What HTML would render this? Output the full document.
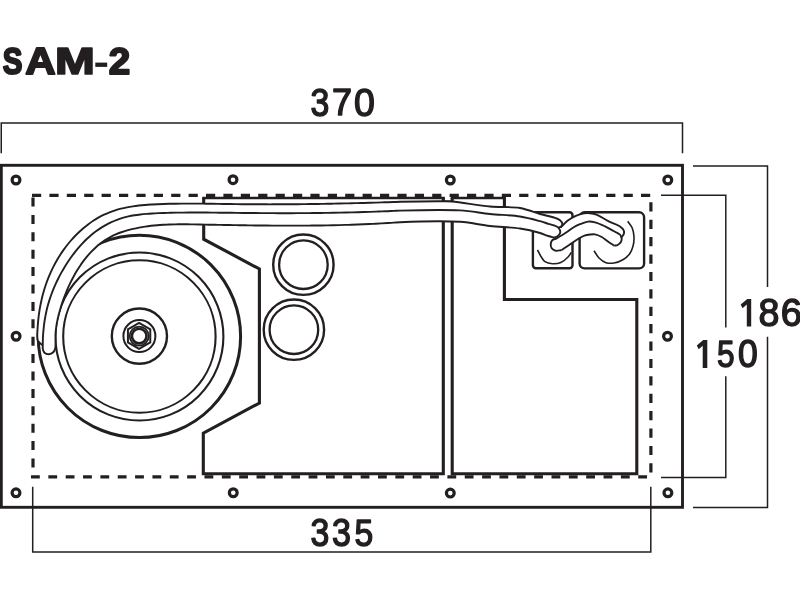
<!DOCTYPE html>
<html><head><meta charset="utf-8"><style>
html,body{margin:0;padding:0;background:#fff;width:800px;height:600px;overflow:hidden}
svg{display:block;will-change:transform}
</style></head><body>
<svg width="800" height="600" viewBox="0 0 800 600"><g fill="none" stroke="#231f20"><path d="M1.25,153.2 V122.9 H682.5 V153.2" stroke-width="1.5"/><path d="M693,166.1 H767.5 V287 M767.5,336.7 V507.5 H693" stroke-width="1.5"/><path d="M661,195.2 H725.8 V327.5 M725.8,376.3 V477.4 H661" stroke-width="1.5"/><path d="M32.7,486.7 V551.9 H650.8 V486.7" stroke-width="1.5"/><rect x="1.3" y="165.3" width="681.2" height="342" stroke-width="2.9"/><path d="M32,195.4 H651" stroke-width="3.2" stroke-dasharray="9.2 8.2"/><path d="M33,197.5 V477" stroke-width="3.2" stroke-dasharray="9 8.4"/><path d="M31,476.9 H651" stroke-width="3.2" stroke-dasharray="8.8 8.55"/><path d="M650.9,202.3 V476" stroke-width="3.2" stroke-dasharray="9.2 8.2"/><circle cx="16" cy="180" r="3.9" stroke-width="3.2"/><circle cx="233" cy="179.7" r="3.9" stroke-width="3.2"/><circle cx="450.3" cy="180" r="3.9" stroke-width="3.2"/><circle cx="667.8" cy="180" r="3.9" stroke-width="3.2"/><circle cx="16.1" cy="336.25" r="3.9" stroke-width="3.2"/><circle cx="667.5" cy="336.25" r="3.9" stroke-width="3.2"/><circle cx="16" cy="492.8" r="3.9" stroke-width="3.2"/><circle cx="233.25" cy="492.75" r="3.9" stroke-width="3.2"/><circle cx="450.3" cy="493.1" r="3.9" stroke-width="3.2"/><circle cx="667.9" cy="492.8" r="3.9" stroke-width="3.2"/><path d="M443.3,198 V473.8 H203.3 V433.2 L259.4,403 V269 L203.7,239.2 V198" stroke-width="3.1"/><path d="M202.2,198 H444.8 M450.7,198 H505.9" stroke-width="2.5"/><path d="M443.3,197 V201.4 H452.2 V197" stroke-width="1.6"/><path d="M504.4,198 V299.5 H636.8 V473.8 H452.2 V198" stroke-width="3.1"/><circle cx="303.4" cy="264.7" r="30.2" stroke-width="2.4"/><circle cx="303.4" cy="264.7" r="24.3" stroke-width="2.3"/><circle cx="293.9" cy="329.7" r="30.2" stroke-width="2.4"/><circle cx="293.9" cy="329.7" r="24.3" stroke-width="2.3"/><circle cx="139.4" cy="336.4" r="101.2" stroke-width="3"/><circle cx="139.4" cy="336.5" r="84" stroke-width="2.1"/><circle cx="139.4" cy="336.5" r="76.2" stroke-width="2.1"/><circle cx="139.4" cy="336.1" r="27.6" stroke-width="2.4"/><circle cx="139.4" cy="336.1" r="16" stroke-width="2"/><polygon points="139.10,348.80 127.93,342.35 127.93,329.45 139.10,323.00 150.27,329.45 150.27,342.35" stroke-width="2"/><circle cx="139.2" cy="336.1" r="9.5" stroke-width="1.8"/><circle cx="139.2" cy="336.1" r="7.3" stroke-width="2.6"/><rect x="532.9" y="212.3" width="39.6" height="55.9" rx="3" stroke-width="2.4"/><rect x="579.6" y="212.3" width="64.5" height="56.1" rx="5" stroke-width="2.4"/><path d="M627.70,221.30 C629.23,223.63 631.25,225.73 632.30,228.30 C633.38,230.95 633.87,234.04 634.00,237.00 C634.13,240.04 633.77,243.43 633.00,246.30 C632.28,248.97 631.28,251.53 629.70,253.70 C628.07,255.94 625.80,257.97 623.30,259.50 C620.62,261.14 617.03,262.51 614.00,263.00 C611.28,263.44 608.47,263.50 606.00,262.70 C603.46,261.87 600.98,259.97 599.00,258.00 C596.97,255.99 595.67,253.13 594.00,250.70" stroke-width="1.6"/><path d="M537.50,250.00 C538.67,252.17 539.71,254.50 541.00,256.50 C542.22,258.38 543.21,260.50 545.00,261.70 C546.95,263.01 549.92,263.60 552.50,263.75 C555.18,263.91 558.23,263.60 560.80,262.50 C563.53,261.33 566.47,258.62 568.30,256.70 C569.65,255.29 570.27,253.90 571.25,252.50" stroke-width="1.6"/><path d="M560.80,227.50 C563.03,225.27 565.02,222.74 567.50,220.80 C570.01,218.84 572.96,217.05 575.80,215.80 C578.47,214.63 581.46,213.81 584.00,213.40 C586.13,213.06 587.94,213.00 590.00,213.20 C592.26,213.42 594.47,213.82 597.00,214.80 C600.41,216.12 604.48,219.27 608.30,221.20 C612.05,223.09 616.99,224.43 619.70,226.30 C621.53,227.56 623.06,228.95 623.70,230.30 C624.17,231.29 624.20,232.33 624.00,233.30 C623.78,234.34 622.97,235.58 622.30,236.30 C621.77,236.87 621.10,237.10 620.50,237.50 L615.00,231.70 C616.77,232.80 619.19,233.70 620.30,235.00 C621.14,235.99 621.59,237.17 621.70,238.30 C621.81,239.41 621.56,240.65 621.00,241.70 C620.35,242.91 618.91,244.35 617.70,245.00 C616.65,245.56 615.43,245.47 614.30,245.70 L614.30,245.70 C612.30,244.37 610.34,243.10 608.30,241.70 C606.14,240.21 603.99,238.23 601.70,237.00 C599.54,235.84 597.11,234.77 595.00,234.40 C593.24,234.09 591.71,234.32 590.00,234.50 C588.18,234.70 586.28,234.93 584.40,235.60 C582.28,236.35 580.26,237.63 578.00,239.00 C575.26,240.66 572.02,243.10 569.20,245.00 C566.60,246.75 564.20,248.33 561.70,250.00 L561.70,250.00 C559.73,250.27 557.53,251.16 555.80,250.80 C554.24,250.47 552.54,249.52 551.70,248.30 C550.84,247.04 550.58,244.76 550.80,243.30 C550.99,242.05 551.60,240.82 552.50,240.00 C553.49,239.09 555.30,238.87 556.70,238.30Z" fill="#fff" stroke="none"/><path d="M560.80,227.50 C563.03,225.27 565.02,222.74 567.50,220.80 C570.01,218.84 572.96,217.05 575.80,215.80 C578.47,214.63 581.46,213.81 584.00,213.40 C586.13,213.06 587.94,213.00 590.00,213.20 C592.26,213.42 594.47,213.82 597.00,214.80 C600.41,216.12 604.48,219.27 608.30,221.20 C612.05,223.09 616.99,224.43 619.70,226.30 C621.53,227.56 623.06,228.95 623.70,230.30 C624.17,231.29 624.20,232.33 624.00,233.30 C623.78,234.34 622.97,235.58 622.30,236.30 C621.77,236.87 621.10,237.10 620.50,237.50" stroke-width="1.9" stroke-linejoin="round"/><path d="M561.70,250.00 C559.73,250.27 557.53,251.16 555.80,250.80 C554.24,250.47 552.54,249.52 551.70,248.30 C550.84,247.04 550.58,244.76 550.80,243.30 C550.99,242.05 551.60,240.82 552.50,240.00 C553.49,239.09 555.10,239.10 556.70,238.30 C559.04,237.13 562.26,235.08 565.00,233.30 C567.80,231.48 570.62,229.08 573.30,227.50 C575.60,226.14 577.63,225.16 580.00,224.20 C582.51,223.18 585.39,221.88 588.00,221.60 C590.38,221.34 592.51,221.69 595.00,222.30 C598.09,223.06 601.71,224.76 605.00,226.30 C608.38,227.88 612.21,230.08 615.00,231.70 C617.07,232.90 619.19,233.70 620.30,235.00 C621.14,235.99 621.59,237.17 621.70,238.30 C621.81,239.41 621.56,240.65 621.00,241.70 C620.35,242.91 618.91,244.35 617.70,245.00 C616.65,245.56 615.43,245.47 614.30,245.70" stroke-width="1.9" stroke-linejoin="round"/><path d="M561.70,250.00 C564.20,248.33 566.60,246.75 569.20,245.00 C572.02,243.10 575.26,240.66 578.00,239.00 C580.26,237.63 582.28,236.35 584.40,235.60 C586.28,234.93 588.18,234.70 590.00,234.50 C591.71,234.32 593.24,234.09 595.00,234.40 C597.11,234.77 599.54,235.84 601.70,237.00 C603.99,238.23 606.14,240.21 608.30,241.70 C610.34,243.10 612.30,244.37 614.30,245.70" stroke-width="1.9" stroke-linejoin="round"/><path d="M42.70,345.30 C41.13,343.87 38.88,342.67 38.00,341.00 C37.22,339.52 37.39,337.75 37.30,336.00 C37.20,334.08 37.41,331.94 37.51,329.92 C37.61,327.89 37.73,325.87 37.89,323.86 C38.05,321.84 38.25,319.82 38.48,317.82 C38.71,315.81 38.97,313.80 39.28,311.81 C39.58,309.81 39.91,307.82 40.29,305.84 C40.66,303.86 41.07,301.88 41.52,299.92 C41.97,297.95 42.45,295.99 42.98,294.05 C43.50,292.10 44.06,290.17 44.67,288.25 C45.27,286.32 45.91,284.41 46.59,282.51 C47.28,280.62 48.00,278.73 48.76,276.86 C49.53,274.99 50.33,273.14 51.18,271.30 C52.03,269.46 52.92,267.63 53.85,265.83 C54.79,264.02 55.76,262.23 56.78,260.47 C57.80,258.70 58.86,256.95 59.96,255.23 C61.06,253.51 62.21,251.81 63.39,250.14 C64.57,248.48 65.80,246.83 67.06,245.22 C68.32,243.62 69.62,242.04 70.95,240.50 C72.29,238.96 73.66,237.45 75.07,235.98 C76.48,234.52 77.93,233.09 79.41,231.71 C80.89,230.33 82.41,228.99 83.96,227.69 C85.50,226.40 87.09,225.16 88.70,223.96 C90.32,222.77 91.96,221.62 93.64,220.53 C95.32,219.45 97.03,218.41 98.77,217.44 C100.51,216.46 102.28,215.54 104.07,214.69 C105.87,213.83 107.70,213.04 109.55,212.31 C111.40,211.58 113.28,210.92 115.18,210.32 C117.09,209.72 119.02,209.18 120.96,208.69 C122.91,208.20 124.88,207.77 126.86,207.38 C128.84,206.99 130.85,206.65 132.85,206.35 C134.87,206.04 136.89,205.79 138.92,205.56 C140.96,205.33 143.00,205.14 145.04,204.96 C147.09,204.79 149.14,204.66 151.20,204.53 C153.25,204.41 155.30,204.31 157.36,204.22 C159.41,204.13 161.46,204.05 163.50,203.99 C165.55,203.92 167.59,203.86 169.63,203.81 C171.66,203.76 173.70,203.72 175.73,203.69 C177.76,203.66 179.79,203.64 181.82,203.62 C183.84,203.60 185.86,203.59 187.89,203.59 C189.91,203.58 191.93,203.58 193.94,203.59 C195.96,203.59 197.98,203.61 199.99,203.62 C202.00,203.64 204.02,203.66 206.03,203.68 C208.04,203.70 210.05,203.72 212.06,203.75 C214.07,203.78 216.08,203.81 218.09,203.84 C220.10,203.87 222.11,203.90 224.12,203.93 C226.13,203.96 228.14,203.99 230.15,204.02 C232.16,204.05 234.17,204.08 236.18,204.10 C238.19,204.13 240.20,204.16 242.22,204.18 C244.23,204.20 246.25,204.22 248.26,204.24 C250.28,204.25 252.30,204.27 254.31,204.28 C256.33,204.29 258.35,204.30 260.37,204.31 C262.39,204.32 264.41,204.32 266.44,204.32 C268.46,204.33 270.48,204.33 272.50,204.32 C274.53,204.32 276.55,204.32 278.58,204.31 C280.60,204.31 282.63,204.30 284.65,204.29 C286.68,204.28 288.71,204.26 290.73,204.25 C292.76,204.23 294.79,204.22 296.82,204.20 C298.84,204.18 300.87,204.16 302.90,204.14 C304.93,204.11 306.96,204.09 308.99,204.06 C311.01,204.03 313.04,204.01 315.07,203.98 C317.10,203.95 319.13,203.91 321.16,203.88 C323.19,203.85 325.21,203.81 327.24,203.77 C329.27,203.74 331.30,203.70 333.33,203.66 C335.35,203.62 337.38,203.57 339.41,203.53 C341.43,203.49 343.46,203.44 345.49,203.40 C347.51,203.35 349.54,203.30 351.56,203.25 C353.59,203.20 355.61,203.15 357.64,203.10 C359.66,203.05 361.68,202.99 363.70,202.94 C365.73,202.88 367.75,202.82 369.77,202.77 C371.79,202.71 373.81,202.65 375.83,202.59 C377.84,202.53 379.86,202.47 381.88,202.41 C383.89,202.34 385.91,202.28 387.92,202.22 C389.94,202.15 391.95,202.09 393.96,202.02 C395.97,201.95 397.10,201.87 400.00,201.80 C407.46,201.62 430.56,201.28 440.00,201.30 C445.17,201.31 446.89,201.12 452.00,201.50 C461.13,202.17 478.06,205.42 490.00,206.50 C500.57,207.46 511.09,206.46 520.00,208.00 C527.43,209.28 534.76,212.58 540.00,214.00 C543.35,214.91 545.69,215.33 548.30,216.00 C550.66,216.60 552.97,217.03 555.00,217.80 C556.83,218.49 558.75,219.19 560.00,220.30 C561.08,221.26 562.24,222.67 562.30,223.80 C562.35,224.80 561.50,226.15 560.80,226.70 C560.23,227.14 559.40,227.03 558.70,227.20 L554.20,237.60 C552.23,237.07 550.42,236.67 548.30,236.00 C545.75,235.20 543.40,233.99 540.00,233.00 C534.81,231.49 527.38,229.63 520.00,228.50 C511.05,227.13 499.98,227.11 490.00,226.00 C479.98,224.88 471.75,222.58 460.00,221.80 C443.46,220.70 409.64,221.79 400.00,222.20 C396.93,222.33 395.96,222.53 393.94,222.67 C391.92,222.81 389.89,222.93 387.87,223.05 C385.85,223.17 383.83,223.29 381.80,223.40 C379.78,223.51 377.76,223.62 375.74,223.72 C373.72,223.82 371.69,223.92 369.67,224.01 C367.65,224.11 365.63,224.20 363.60,224.28 C361.58,224.36 359.56,224.44 357.54,224.52 C355.51,224.59 353.49,224.66 351.47,224.73 C349.45,224.80 347.42,224.86 345.40,224.92 C343.38,224.98 341.36,225.03 339.33,225.08 C337.31,225.13 335.29,225.18 333.27,225.23 C331.24,225.27 329.22,225.31 327.20,225.35 C325.17,225.38 323.15,225.41 321.13,225.44 C319.11,225.47 317.08,225.50 315.06,225.52 C313.04,225.55 311.01,225.57 308.99,225.58 C306.97,225.60 304.94,225.62 302.92,225.63 C300.90,225.64 298.87,225.65 296.85,225.65 C294.83,225.66 292.80,225.66 290.78,225.66 C288.76,225.66 286.73,225.66 284.71,225.65 C282.69,225.65 280.66,225.64 278.64,225.63 C276.62,225.63 274.59,225.61 272.57,225.60 C270.54,225.59 268.52,225.57 266.50,225.55 C264.47,225.54 262.45,225.52 260.42,225.50 C258.40,225.48 256.37,225.45 254.35,225.43 C252.33,225.40 250.30,225.38 248.28,225.35 C246.25,225.32 244.23,225.29 242.20,225.26 C240.18,225.23 238.15,225.20 236.13,225.17 C234.10,225.14 232.08,225.10 230.05,225.07 C228.03,225.03 226.00,225.00 223.98,224.96 C221.95,224.93 219.93,224.89 217.90,224.85 C215.87,224.81 213.85,224.77 211.82,224.74 C209.80,224.70 207.77,224.66 205.75,224.62 C203.72,224.58 201.69,224.54 199.67,224.50 C197.64,224.46 195.61,224.42 193.59,224.39 C191.56,224.36 189.54,224.33 187.51,224.31 C185.49,224.29 183.46,224.28 181.44,224.29 C179.41,224.29 177.39,224.31 175.36,224.34 C173.34,224.38 171.32,224.42 169.30,224.50 C167.28,224.57 165.26,224.66 163.24,224.78 C161.22,224.90 159.20,225.03 157.18,225.21 C155.17,225.38 153.15,225.57 151.14,225.80 C149.12,226.04 147.11,226.30 145.10,226.60 C143.09,226.90 141.08,227.23 139.08,227.60 C137.07,227.98 135.07,228.39 133.08,228.86 C131.09,229.32 129.11,229.82 127.15,230.39 C125.20,230.95 123.25,231.56 121.34,232.25 C119.44,232.92 117.55,233.66 115.71,234.47 C113.87,235.27 112.06,236.14 110.30,237.09 C108.55,238.03 106.83,239.06 105.17,240.15 C103.50,241.24 101.88,242.40 100.31,243.62 C98.73,244.84 97.20,246.13 95.72,247.47 C94.24,248.82 92.80,250.22 91.40,251.67 C90.01,253.12 88.66,254.62 87.35,256.16 C86.04,257.71 84.77,259.30 83.55,260.93 C82.32,262.55 81.14,264.22 80.00,265.92 C78.86,267.62 77.76,269.35 76.70,271.10 C75.64,272.86 74.62,274.64 73.64,276.44 C72.66,278.24 71.72,280.06 70.81,281.89 C69.91,283.72 69.05,285.57 68.22,287.42 C67.39,289.28 66.60,291.14 65.85,293.02 C65.09,294.89 64.37,296.78 63.68,298.67 C62.99,300.57 62.34,302.47 61.72,304.38 C61.09,306.29 60.50,308.21 59.94,310.14 C59.39,312.07 58.86,314.00 58.38,315.95 C57.91,317.90 57.47,319.86 57.09,321.83 C56.71,323.80 56.38,325.79 56.12,327.79 C55.86,329.79 55.64,331.80 55.54,333.83 C55.43,335.87 55.53,337.81 55.50,340.00 C55.46,342.49 55.79,345.83 55.30,348.00 C54.93,349.61 54.51,350.97 53.50,352.00 C52.39,353.13 50.26,354.22 48.70,354.30 C47.27,354.37 45.50,353.71 44.50,352.80 C43.53,351.92 43.30,350.27 42.70,349.00Z" fill="#fff" stroke="none"/><path d="M42.70,345.30 C41.13,343.87 38.88,342.67 38.00,341.00 C37.22,339.52 37.39,337.75 37.30,336.00 C37.20,334.08 37.41,331.94 37.51,329.92 C37.61,327.89 37.73,325.87 37.89,323.86 C38.05,321.84 38.25,319.82 38.48,317.82 C38.71,315.81 38.97,313.80 39.28,311.81 C39.58,309.81 39.91,307.82 40.29,305.84 C40.66,303.86 41.07,301.88 41.52,299.92 C41.97,297.95 42.45,295.99 42.98,294.05 C43.50,292.10 44.06,290.17 44.67,288.25 C45.27,286.32 45.91,284.41 46.59,282.51 C47.28,280.62 48.00,278.73 48.76,276.86 C49.53,274.99 50.33,273.14 51.18,271.30 C52.03,269.46 52.92,267.63 53.85,265.83 C54.79,264.02 55.76,262.23 56.78,260.47 C57.80,258.70 58.86,256.95 59.96,255.23 C61.06,253.51 62.21,251.81 63.39,250.14 C64.57,248.48 65.80,246.83 67.06,245.22 C68.32,243.62 69.62,242.04 70.95,240.50 C72.29,238.96 73.66,237.45 75.07,235.98 C76.48,234.52 77.93,233.09 79.41,231.71 C80.89,230.33 82.41,228.99 83.96,227.69 C85.50,226.40 87.09,225.16 88.70,223.96 C90.32,222.77 91.96,221.62 93.64,220.53 C95.32,219.45 97.03,218.41 98.77,217.44 C100.51,216.46 102.28,215.54 104.07,214.69 C105.87,213.83 107.70,213.04 109.55,212.31 C111.40,211.58 113.28,210.92 115.18,210.32 C117.09,209.72 119.02,209.18 120.96,208.69 C122.91,208.20 124.88,207.77 126.86,207.38 C128.84,206.99 130.85,206.65 132.85,206.35 C134.87,206.04 136.89,205.79 138.92,205.56 C140.96,205.33 143.00,205.14 145.04,204.96 C147.09,204.79 149.14,204.66 151.20,204.53 C153.25,204.41 155.30,204.31 157.36,204.22 C159.41,204.13 161.46,204.05 163.50,203.99 C165.55,203.92 167.59,203.86 169.63,203.81 C171.66,203.76 173.70,203.72 175.73,203.69 C177.76,203.66 179.79,203.64 181.82,203.62 C183.84,203.60 185.86,203.59 187.89,203.59 C189.91,203.58 191.93,203.58 193.94,203.59 C195.96,203.59 197.98,203.61 199.99,203.62 C202.00,203.64 204.02,203.66 206.03,203.68 C208.04,203.70 210.05,203.72 212.06,203.75 C214.07,203.78 216.08,203.81 218.09,203.84 C220.10,203.87 222.11,203.90 224.12,203.93 C226.13,203.96 228.14,203.99 230.15,204.02 C232.16,204.05 234.17,204.08 236.18,204.10 C238.19,204.13 240.20,204.16 242.22,204.18 C244.23,204.20 246.25,204.22 248.26,204.24 C250.28,204.25 252.30,204.27 254.31,204.28 C256.33,204.29 258.35,204.30 260.37,204.31 C262.39,204.32 264.41,204.32 266.44,204.32 C268.46,204.33 270.48,204.33 272.50,204.32 C274.53,204.32 276.55,204.32 278.58,204.31 C280.60,204.31 282.63,204.30 284.65,204.29 C286.68,204.28 288.71,204.26 290.73,204.25 C292.76,204.23 294.79,204.22 296.82,204.20 C298.84,204.18 300.87,204.16 302.90,204.14 C304.93,204.11 306.96,204.09 308.99,204.06 C311.01,204.03 313.04,204.01 315.07,203.98 C317.10,203.95 319.13,203.91 321.16,203.88 C323.19,203.85 325.21,203.81 327.24,203.77 C329.27,203.74 331.30,203.70 333.33,203.66 C335.35,203.62 337.38,203.57 339.41,203.53 C341.43,203.49 343.46,203.44 345.49,203.40 C347.51,203.35 349.54,203.30 351.56,203.25 C353.59,203.20 355.61,203.15 357.64,203.10 C359.66,203.05 361.68,202.99 363.70,202.94 C365.73,202.88 367.75,202.82 369.77,202.77 C371.79,202.71 373.81,202.65 375.83,202.59 C377.84,202.53 379.86,202.47 381.88,202.41 C383.89,202.34 385.91,202.28 387.92,202.22 C389.94,202.15 391.95,202.09 393.96,202.02 C395.97,201.95 397.10,201.87 400.00,201.80 C407.46,201.62 430.56,201.28 440.00,201.30 C445.17,201.31 446.89,201.12 452.00,201.50 C461.13,202.17 478.06,205.42 490.00,206.50 C500.57,207.46 511.09,206.46 520.00,208.00 C527.43,209.28 534.76,212.58 540.00,214.00 C543.35,214.91 545.69,215.33 548.30,216.00 C550.66,216.60 552.97,217.03 555.00,217.80 C556.83,218.49 558.75,219.19 560.00,220.30 C561.08,221.26 562.24,222.67 562.30,223.80 C562.35,224.80 561.50,226.15 560.80,226.70 C560.23,227.14 559.40,227.03 558.70,227.20" stroke-width="1.9" stroke-linejoin="round"/><path d="M42.70,349.00 C42.80,344.67 42.81,339.52 43.00,336.00 C43.13,333.59 43.32,331.94 43.52,329.92 C43.71,327.89 43.90,325.86 44.16,323.84 C44.42,321.84 44.73,319.84 45.08,317.85 C45.42,315.87 45.82,313.90 46.25,311.94 C46.68,309.99 47.16,308.05 47.68,306.12 C48.19,304.19 48.75,302.27 49.35,300.37 C49.95,298.47 50.59,296.58 51.27,294.71 C51.95,292.84 52.66,290.98 53.42,289.13 C54.18,287.29 54.97,285.46 55.80,283.64 C56.63,281.82 57.50,280.02 58.40,278.23 C59.31,276.44 60.25,274.66 61.22,272.91 C62.19,271.14 63.20,269.40 64.25,267.67 C65.29,265.93 66.37,264.21 67.48,262.51 C68.59,260.81 69.73,259.13 70.91,257.47 C72.09,255.82 73.31,254.18 74.56,252.57 C75.81,250.97 77.09,249.39 78.41,247.85 C79.73,246.31 81.09,244.79 82.48,243.32 C83.87,241.86 85.29,240.42 86.76,239.03 C88.22,237.65 89.72,236.30 91.26,235.01 C92.80,233.72 94.37,232.47 95.98,231.28 C97.59,230.09 99.24,228.95 100.93,227.87 C102.61,226.79 104.33,225.77 106.08,224.81 C107.83,223.86 109.62,222.95 111.43,222.12 C113.24,221.29 115.08,220.52 116.94,219.81 C118.80,219.11 120.70,218.48 122.61,217.91 C124.52,217.34 126.45,216.85 128.40,216.41 C130.35,215.98 132.32,215.61 134.30,215.28 C136.28,214.95 138.28,214.68 140.29,214.45 C142.29,214.21 144.31,214.02 146.33,213.86 C148.35,213.69 150.38,213.56 152.41,213.45 C154.44,213.33 156.48,213.25 158.51,213.17 C160.54,213.08 162.57,213.02 164.60,212.95 C166.63,212.89 168.65,212.84 170.68,212.79 C172.70,212.74 174.72,212.70 176.75,212.67 C178.77,212.63 180.78,212.61 182.80,212.59 C184.82,212.57 186.84,212.55 188.85,212.54 C190.86,212.53 192.88,212.53 194.89,212.53 C196.90,212.53 198.91,212.53 200.93,212.54 C202.94,212.54 204.94,212.56 206.95,212.57 C208.96,212.58 210.97,212.60 212.98,212.62 C214.99,212.64 216.99,212.66 219.00,212.68 C221.01,212.70 223.02,212.73 225.02,212.75 C227.03,212.77 229.04,212.80 231.04,212.82 C233.05,212.85 235.06,212.87 237.07,212.89 C239.07,212.92 241.08,212.94 243.09,212.96 C245.10,212.98 247.11,213.00 249.12,213.02 C251.13,213.04 253.14,213.06 255.15,213.07 C257.16,213.09 259.17,213.10 261.18,213.11 C263.19,213.13 265.20,213.14 267.21,213.15 C269.22,213.16 271.24,213.17 273.25,213.17 C275.26,213.18 277.27,213.18 279.29,213.19 C281.30,213.19 283.31,213.19 285.33,213.19 C287.34,213.19 289.35,213.18 291.37,213.18 C293.38,213.18 295.39,213.17 297.41,213.16 C299.42,213.15 301.43,213.14 303.45,213.13 C305.46,213.12 307.48,213.10 309.49,213.09 C311.50,213.07 313.52,213.05 315.53,213.03 C317.55,213.01 319.56,212.98 321.57,212.96 C323.59,212.93 325.60,212.90 327.62,212.87 C329.63,212.84 331.64,212.81 333.66,212.78 C335.67,212.74 337.68,212.70 339.70,212.66 C341.71,212.62 343.72,212.58 345.74,212.54 C347.75,212.49 349.76,212.44 351.77,212.39 C353.79,212.34 355.80,212.29 357.81,212.23 C359.82,212.18 361.83,212.12 363.84,212.06 C365.86,212.00 367.87,211.93 369.88,211.86 C371.89,211.80 373.90,211.73 375.91,211.65 C377.92,211.58 379.92,211.50 381.93,211.42 C383.94,211.35 385.95,211.26 387.96,211.18 C389.97,211.09 391.97,211.01 393.98,210.91 C395.99,210.82 396.95,210.68 400.00,210.60 C409.62,210.33 443.46,209.44 460.00,210.40 C471.74,211.08 479.99,212.98 490.00,214.00 C499.99,215.02 511.06,215.08 520.00,216.50 C527.39,217.67 534.80,219.78 540.00,221.20 C543.39,222.13 545.53,222.92 548.30,223.80 C551.09,224.69 554.69,225.23 556.70,226.50 C558.14,227.41 559.28,228.58 559.80,229.80 C560.26,230.87 560.35,232.25 560.00,233.30 C559.63,234.41 558.49,235.53 557.50,236.25 C556.55,236.94 555.30,237.15 554.20,237.60" stroke-width="1.9" stroke-linejoin="round"/><path d="M42.70,349.00 C43.30,350.27 43.53,351.92 44.50,352.80 C45.50,353.71 47.27,354.37 48.70,354.30 C50.26,354.22 52.39,353.13 53.50,352.00 C54.51,350.97 54.93,349.61 55.30,348.00 C55.79,345.83 55.46,342.49 55.50,340.00 C55.53,337.81 55.43,335.87 55.54,333.83 C55.64,331.80 55.86,329.79 56.12,327.79 C56.38,325.79 56.71,323.80 57.09,321.83 C57.47,319.86 57.91,317.90 58.38,315.95 C58.86,314.00 59.39,312.07 59.94,310.14 C60.50,308.21 61.09,306.29 61.72,304.38 C62.34,302.47 62.99,300.57 63.68,298.67 C64.37,296.78 65.09,294.89 65.85,293.02 C66.60,291.14 67.39,289.28 68.22,287.42 C69.05,285.57 69.91,283.72 70.81,281.89 C71.72,280.06 72.66,278.24 73.64,276.44 C74.62,274.64 75.64,272.86 76.70,271.10 C77.76,269.35 78.86,267.62 80.00,265.92 C81.14,264.22 82.32,262.55 83.55,260.93 C84.77,259.30 86.04,257.71 87.35,256.16 C88.66,254.62 90.01,253.12 91.40,251.67 C92.80,250.22 94.24,248.82 95.72,247.47 C97.20,246.13 98.73,244.84 100.31,243.62 C101.88,242.40 103.50,241.24 105.17,240.15 C106.83,239.06 108.55,238.03 110.30,237.09 C112.06,236.14 113.87,235.27 115.71,234.47 C117.55,233.66 119.44,232.92 121.34,232.25 C123.25,231.56 125.20,230.95 127.15,230.39 C129.11,229.82 131.09,229.32 133.08,228.86 C135.07,228.39 137.07,227.98 139.08,227.60 C141.08,227.23 143.09,226.90 145.10,226.60 C147.11,226.30 149.12,226.04 151.14,225.80 C153.15,225.57 155.17,225.38 157.18,225.21 C159.20,225.03 161.22,224.90 163.24,224.78 C165.26,224.66 167.28,224.57 169.30,224.50 C171.32,224.42 173.34,224.38 175.36,224.34 C177.39,224.31 179.41,224.29 181.44,224.29 C183.46,224.28 185.49,224.29 187.51,224.31 C189.54,224.33 191.56,224.36 193.59,224.39 C195.61,224.42 197.64,224.46 199.67,224.50 C201.69,224.54 203.72,224.58 205.75,224.62 C207.77,224.66 209.80,224.70 211.82,224.74 C213.85,224.77 215.87,224.81 217.90,224.85 C219.93,224.89 221.95,224.93 223.98,224.96 C226.00,225.00 228.03,225.03 230.05,225.07 C232.08,225.10 234.10,225.14 236.13,225.17 C238.15,225.20 240.18,225.23 242.20,225.26 C244.23,225.29 246.25,225.32 248.28,225.35 C250.30,225.38 252.33,225.40 254.35,225.43 C256.37,225.45 258.40,225.48 260.42,225.50 C262.45,225.52 264.47,225.54 266.50,225.55 C268.52,225.57 270.54,225.59 272.57,225.60 C274.59,225.61 276.62,225.63 278.64,225.63 C280.66,225.64 282.69,225.65 284.71,225.65 C286.73,225.66 288.76,225.66 290.78,225.66 C292.80,225.66 294.83,225.66 296.85,225.65 C298.87,225.65 300.90,225.64 302.92,225.63 C304.94,225.62 306.97,225.60 308.99,225.58 C311.01,225.57 313.04,225.55 315.06,225.52 C317.08,225.50 319.11,225.47 321.13,225.44 C323.15,225.41 325.17,225.38 327.20,225.35 C329.22,225.31 331.24,225.27 333.27,225.23 C335.29,225.18 337.31,225.13 339.33,225.08 C341.36,225.03 343.38,224.98 345.40,224.92 C347.42,224.86 349.45,224.80 351.47,224.73 C353.49,224.66 355.51,224.59 357.54,224.52 C359.56,224.44 361.58,224.36 363.60,224.28 C365.63,224.20 367.65,224.11 369.67,224.01 C371.69,223.92 373.72,223.82 375.74,223.72 C377.76,223.62 379.78,223.51 381.80,223.40 C383.83,223.29 385.85,223.17 387.87,223.05 C389.89,222.93 391.92,222.81 393.94,222.67 C395.96,222.53 396.93,222.33 400.00,222.20 C409.64,221.79 443.46,220.70 460.00,221.80 C471.75,222.58 479.98,224.88 490.00,226.00 C499.98,227.11 511.05,227.13 520.00,228.50 C527.38,229.63 534.81,231.49 540.00,233.00 C543.40,233.99 545.75,235.20 548.30,236.00 C550.42,236.67 552.23,237.07 554.20,237.60" stroke-width="1.9" stroke-linejoin="round"/></g><g fill="#231f20" font-family="Liberation Sans, sans-serif"><text transform="matrix(0.2950 0 0 0.3662 2.71 73.93)" font-size="100" font-weight="bold" stroke="#231f20" stroke-width="6.050" stroke-linejoin="round">S</text><text transform="matrix(0.4209 0 0 0.3652 25.35 73.90)" font-size="100" font-weight="bold" stroke="#231f20" stroke-width="5.088" stroke-linejoin="round">A</text><text transform="matrix(0.4786 0 0 0.3652 54.89 73.70)" font-size="100" font-weight="bold" stroke="#231f20" stroke-width="4.741" stroke-linejoin="round">M</text><text transform="matrix(0.3854 0 0 0.3686 108.65 73.80)" font-size="100" font-weight="bold" stroke="#231f20" stroke-width="5.305" stroke-linejoin="round">2</text><text transform="matrix(0.3383 0 0 0.3831 310.45 115.62)" font-size="100" font-weight="normal" stroke="#231f20" stroke-width="3.881" stroke-linejoin="round">3</text><text transform="matrix(0.3604 0 0 0.3768 332.00 115.30)" font-size="100" font-weight="normal" stroke="#231f20" stroke-width="3.798" stroke-linejoin="round">7</text><text transform="matrix(0.3747 0 0 0.3831 353.90 115.62)" font-size="100" font-weight="normal" stroke="#231f20" stroke-width="3.695" stroke-linejoin="round">0</text><text transform="matrix(0.3383 0 0 0.3831 310.45 545.62)" font-size="100" font-weight="normal" stroke="#231f20" stroke-width="3.881" stroke-linejoin="round">3</text><text transform="matrix(0.3404 0 0 0.3831 331.94 545.62)" font-size="100" font-weight="normal" stroke="#231f20" stroke-width="3.870" stroke-linejoin="round">3</text><text transform="matrix(0.3368 0 0 0.3757 354.45 545.62)" font-size="100" font-weight="normal" stroke="#231f20" stroke-width="3.930" stroke-linejoin="round">5</text><text transform="matrix(0.3766 0 0 0.3817 758.41 325.92)" font-size="100" font-weight="normal" stroke="#231f20" stroke-width="3.693" stroke-linejoin="round">8</text><text transform="matrix(0.3826 0 0 0.3789 780.79 326.02)" font-size="100" font-weight="normal" stroke="#231f20" stroke-width="3.677" stroke-linejoin="round">6</text><text transform="matrix(0.3158 0 0 0.3757 717.04 367.02)" font-size="100" font-weight="normal" stroke="#231f20" stroke-width="4.049" stroke-linejoin="round">5</text><text transform="matrix(0.3547 0 0 0.3817 738.03 367.22)" font-size="100" font-weight="normal" stroke="#231f20" stroke-width="3.802" stroke-linejoin="round">0</text></g><g fill="#231f20"><rect x="95.3" y="62.6" width="11.9" height="4.3"/><path d="M746.8,326.6 H751.2 V298.9 H747.3 L740.7,304.6 L742.5,308.3 L746.8,304.6 Z"/><path d="M702.7,368.1 H707.3 V340 H703.2 L696.8,345.6 L698.7,349.3 L702.7,345.8 Z"/></g></svg>
</body></html>
